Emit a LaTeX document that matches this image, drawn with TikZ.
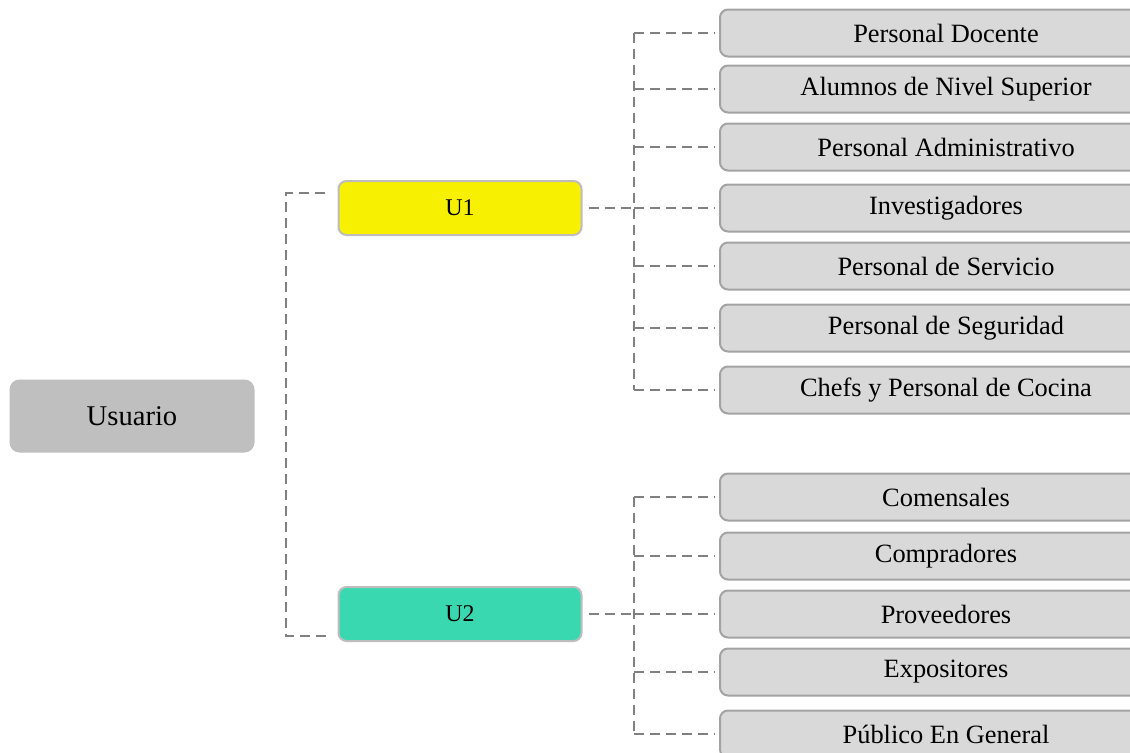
\documentclass[tikz,border=0pt]{standalone}
\usepackage{fontspec}
\setmainfont{Liberation Serif}
\definecolor{boxgray}{HTML}{D9D9D9}
\definecolor{boxline}{HTML}{A3A3A3}
\definecolor{rootgray}{HTML}{BFBFBF}
\definecolor{groupline}{HTML}{BDBDBD}
\definecolor{uyellow}{HTML}{F7F000}
\definecolor{ugreen}{HTML}{3AD8B1}
\definecolor{linkgray}{HTML}{808080}
\begin{document}
\begin{tikzpicture}[x=0.5pt,y=-0.5pt,
    box/.style={draw=boxline, fill=boxgray, line width=1pt, rounded corners=4pt,
      minimum width=226pt, minimum height=23.5pt, inner sep=0pt, anchor=west,
      font=\fontsize{13.2}{15}\selectfont},
    group/.style={draw=groupline, line width=1pt, rounded corners=4pt,
      minimum width=121.5pt, minimum height=27pt, inner sep=0pt,
      font=\fontsize{12}{14}\selectfont},
    link/.style={draw=linkgray, line width=1pt, dash pattern=on 5pt off 3pt}]
    \useasboundingbox (0,0) rectangle (1130,752);
    \clip (0,0) rectangle (1130,752);
    % root and the two groups
    \node[fill=rootgray, rounded corners=5pt, minimum width=122.5pt, minimum height=36.5pt,
      inner sep=0pt, font=\fontsize{14.3}{16}\selectfont] (usuario) at (132,416) {Usuario};
    \node[group, fill=uyellow] (u1) at (460,208) {U1};
    \node[group, fill=ugreen] (u2) at (460,614) {U2};
    \coordinate (bus1) at (634,0);
    % first group
    \foreach \name/\y/\label in {doc/33/Personal Docente, alum/89/Alumnos de Nivel Superior,
        adm/147/Personal Administrativo, inv/208/Investigadores, serv/266/Personal de Servicio,
        seg/328/Personal de Seguridad, chef/390/Chefs y Personal de Cocina}
    {
      \node[box] (\name) at (719,\y) {\label};
      \draw[link] (bus1 |- \name.west) -- ([xshift=-2pt]\name.west);
    }
    % second group
    \foreach \name/\y/\label in {com/497/Comensales, compr/556/Compradores,
        prov/614/Proveedores, expo/672/Expositores, pub/734/Público En General}
    {
      \node[box] (\name) at (719,\y) {\label};
      \draw[link] (bus1 |- \name.west) -- ([xshift=-2pt]\name.west);
    }
    \draw[link] (bus1 |- doc.west) -- (bus1 |- chef.west);
    \draw[link] (bus1 |- com.west) -- (bus1 |- pub.west);
    \draw[link] ([xshift=3pt]u1.east) -- (bus1 |- inv.west);
    \draw[link] ([xshift=3pt]u2.east) -- (bus1 |- prov.west);
    % root link
    \coordinate (tap1) at (325,193);
    \coordinate (tap2) at (327,636);
    \draw[link] (tap1) -- ++(-39,0) |- (tap2);
\end{tikzpicture}
\end{document}
